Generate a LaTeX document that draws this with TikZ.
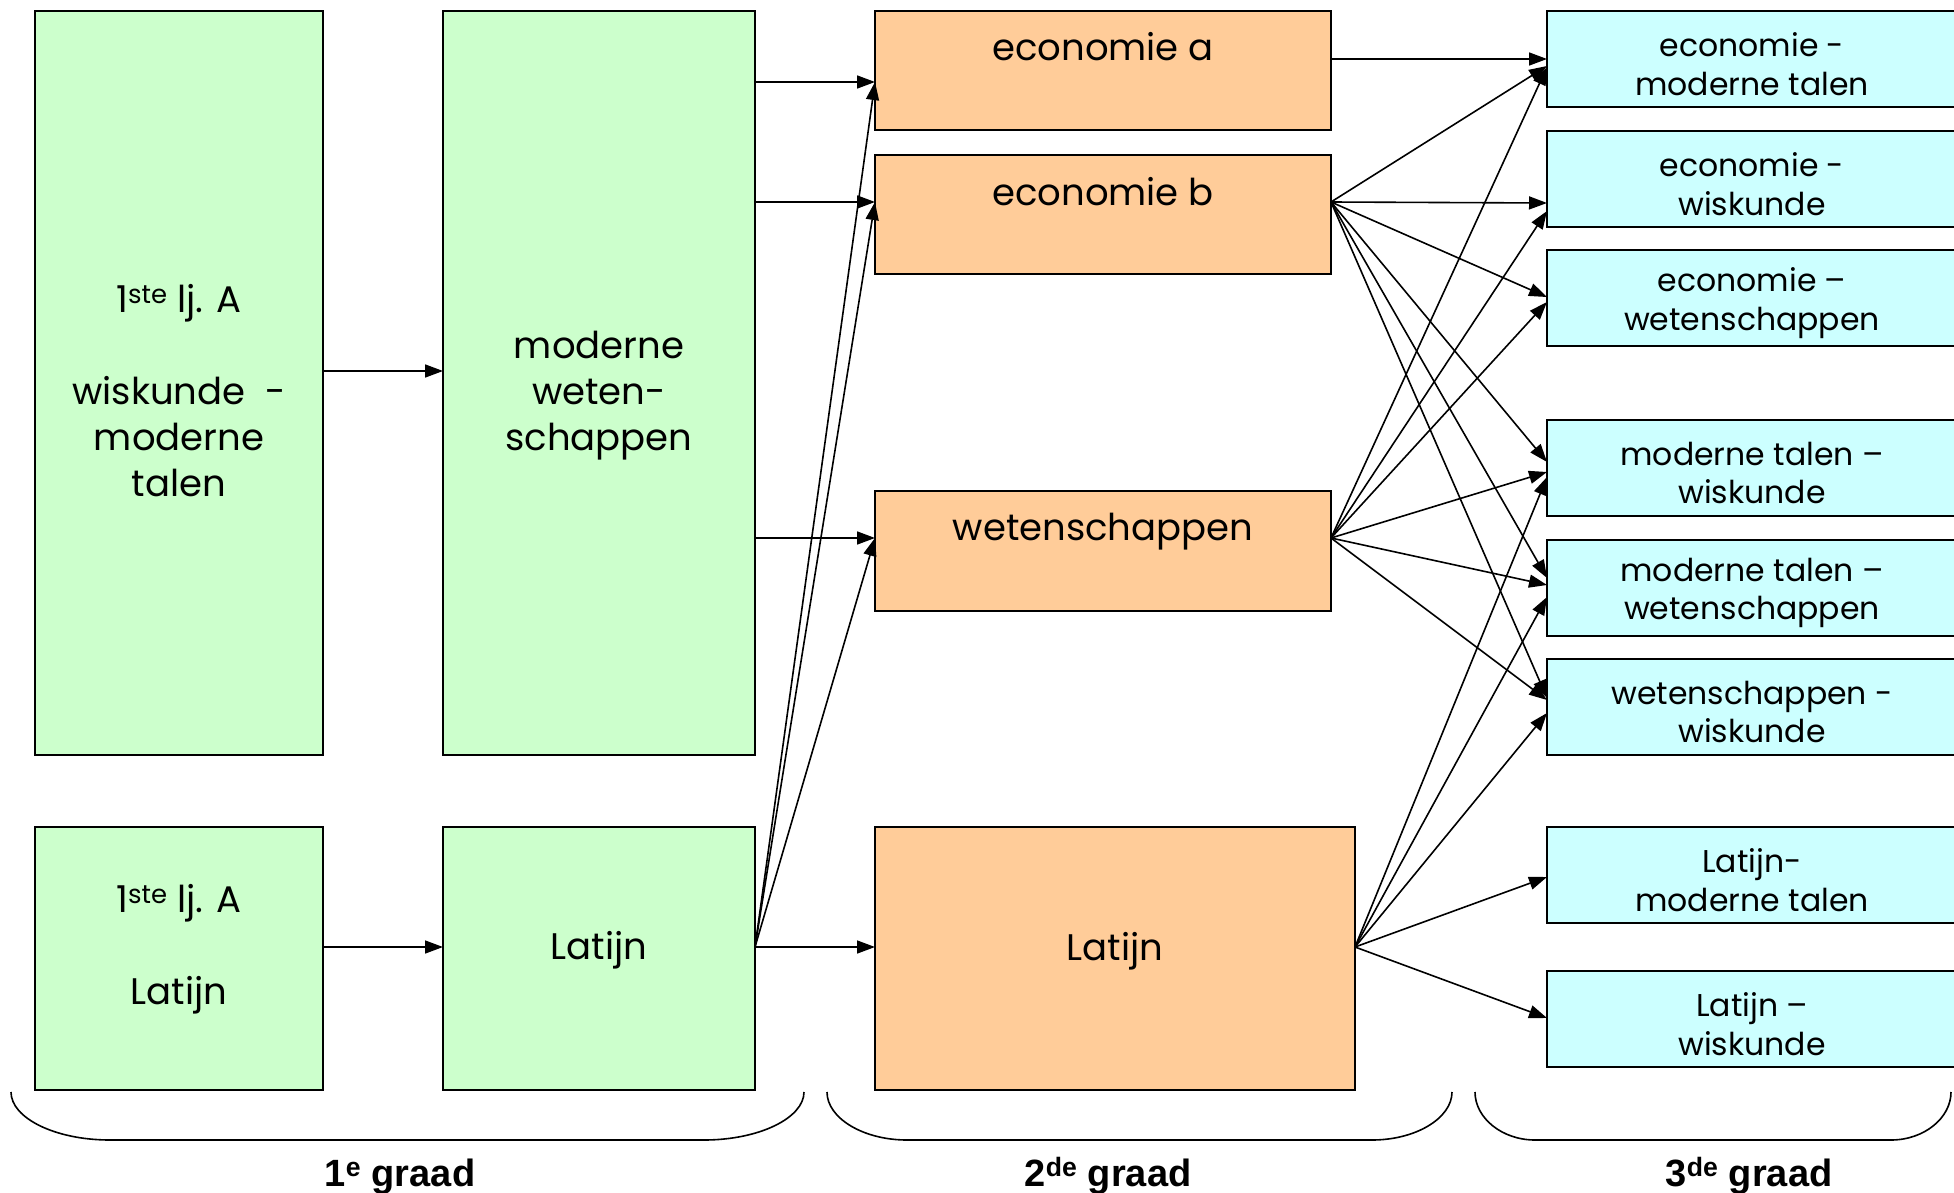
\documentclass[tikz,border=0pt]{standalone}
\usepackage{fontspec}
\setmainfont{Poppins}
\newfontfamily\arialf{Liberation Sans}
\usetikzlibrary{arrows.meta}
\definecolor{gfill}{HTML}{CCFFCC}
\definecolor{ofill}{HTML}{FFCC99}
\definecolor{cfill}{HTML}{CCFFFF}
\begin{document}
\begin{tikzpicture}[x=1pt,y=-1pt,
  box/.style={draw=black, line width=1.8pt, anchor=north west, inner sep=0pt, outer sep=0pt},
  gbox/.style={box, fill=gfill},
  obox/.style={box, fill=ofill},
  cbox/.style={box, fill=cfill, minimum width=410pt, minimum height=96pt},
  ctext/.style={inner sep=0pt, align=center, font=\fontsize{31.5}{38.6}\selectfont},
  bigtext/.style={inner sep=0pt, align=center, font=\fontsize{37}{46}\selectfont},
  gradetext/.style={inner sep=0pt, anchor=base, font=\arialf\bfseries\fontsize{38}{42}\selectfont},
  ln/.style={line width=1.6pt, -{Triangle[length=18pt,width=13pt]}},
  brace/.style={line width=1.6pt}
]
\path[use as bounding box] (0,0) rectangle (1954,1193);
\clip (0,0) rectangle (1954,1193);

% first grade (green)
\node[gbox, minimum width=288pt, minimum height=744pt] (g1) at (35,11) {};
\node[gbox, minimum width=312pt, minimum height=744pt] (g2) at (443,11) {};
\node[gbox, minimum width=288pt, minimum height=263pt] (g3) at (35,827) {};
\node[gbox, minimum width=312pt, minimum height=263pt] (g4) at (443,827) {};
\node[bigtext] (t1) at (179,391) {1\textsuperscript{ste} lj. A\\[46pt]wiskunde~ -\\moderne\\talen};
\node[bigtext] (t2) at (599,396) {moderne\\weten-\\schappen};
\node[bigtext] (t3) at (179,949) {1\textsuperscript{ste} lj. A\\[46pt]Latijn};
\node[bigtext] (t4) at (599,950) {Latijn};

% second grade (orange)
\node[obox, minimum width=456pt, minimum height=119pt] (oa) at (875,11) {};
\node[obox, minimum width=456pt, minimum height=119pt] (ob) at (875,155) {};
\node[obox, minimum width=456pt, minimum height=120pt] (ow) at (875,491) {};
\node[obox, minimum width=480pt, minimum height=263pt] (ol) at (875,827) {};
\node[bigtext] (toa) at (1103,47) {economie a};
\node[bigtext] (tob) at (1103,192) {economie b};
\node[bigtext] (tow) at (1103,532) {wetenschappen};
\node[bigtext] (tol) at (1115,951) {Latijn};

% third grade (cyan)
\node[cbox] (c1) at (1547,11)  {};
\node[cbox] (c2) at (1547,131) {};
\node[cbox] (c3) at (1547,250) {};
\node[cbox] (c4) at (1547,420) {};
\node[cbox] (c5) at (1547,540) {};
\node[cbox] (c6) at (1547,659) {};
\node[cbox] (c7) at (1547,827) {};
\node[cbox] (c8) at (1547,971) {};
\node[ctext] (ct1) at ([yshift=-5pt]c1.center) {economie -\\moderne talen};
\node[ctext] (ct2) at ([yshift=-5pt]c2.center) {economie -\\wiskunde};
\node[ctext] (ct3) at ([yshift=-5pt]c3.center) {economie –\\wetenschappen};
\node[ctext] (ct4) at ([yshift=-5pt]c4.center) {moderne talen –\\wiskunde};
\node[ctext] (ct5) at ([yshift=-5pt]c5.center) {moderne talen –\\wetenschappen};
\node[ctext] (ct6) at ([yshift=-5pt]c6.center) {wetenschappen -\\wiskunde};
\node[ctext] (ct7) at ([yshift=-5pt]c7.center) {Latijn-\\moderne talen};
\node[ctext] (ct8) at ([yshift=-5pt]c8.center) {Latijn –\\wiskunde};

% connector end points
\coordinate (g1o) at ([yshift=12pt]g1.east);
\coordinate (g2i) at ([yshift=12pt]g2.west);
\coordinate (g3o) at ([yshift=11.5pt]g3.east);
\coordinate (g4i) at ([yshift=11.5pt]g4.west);
\coordinate (g2a) at ([yshift=301pt]g2.east);
\coordinate (g2b) at ([yshift=181pt]g2.east);
\coordinate (g2w) at ([yshift=-155pt]g2.east);
\coordinate (g4o) at ([yshift=11.5pt]g4.east);
\coordinate (oai) at ([yshift=-11.5pt]oa.west);
\coordinate (obi) at ([yshift=12.5pt]ob.west);
\coordinate (owi) at ([yshift=13pt]ow.west);
\coordinate (oli) at ([yshift=11.5pt]ol.west);
\coordinate (oao) at ([yshift=11.5pt]oa.east);
\coordinate (obo) at ([yshift=12.5pt]ob.east);
\coordinate (owo) at ([yshift=13pt]ow.east);
\coordinate (olo) at ([yshift=11.5pt]ol.east);

% first grade arrows
\draw[ln] (g1o) -- (g2i);
\draw[ln] (g3o) -- (g4i);
\draw[ln] (g2a) -- (oai);
\draw[ln] (g2b) -- (obi);
\draw[ln] (g2w) -- (owi);
\draw[ln] (g4o) -- (oai);
\draw[ln] (g4o) -- (obi);
\draw[ln] (g4o) -- (owi);
\draw[ln] (g4o) -- (oli);

% second grade arrows
\draw[ln] (oao) -- (c1.west);
\draw[ln] (obo) -- ([yshift=-7pt]c1.west);
\draw[ln] (obo) -- ([yshift=-24pt]c2.west);
\draw[ln] (obo) -- ([yshift=1pt]c3.west);
\draw[ln] (obo) -- ([yshift=6pt]c4.west);
\draw[ln] (obo) -- ([yshift=10pt]c5.west);
\draw[ln] (obo) -- ([yshift=9pt]c6.west);
\draw[ln] (owo) -- ([yshift=-8pt]c1.west);
\draw[ln] (owo) -- ([yshift=-32pt]c2.west);
\draw[ln] (owo) -- ([yshift=-4pt]c3.west);
\draw[ln] (owo) -- ([yshift=-4pt]c4.west);
\draw[ln] (owo) -- ([yshift=3pt]c5.west);
\draw[ln] (owo) -- ([yshift=7pt]c6.west);
\draw[ln] (olo) -- ([yshift=-9pt]c4.west);
\draw[ln] (olo) -- ([yshift=-9pt]c5.west);
\draw[ln] (olo) -- ([yshift=-6pt]c6.west);
\draw[ln] (olo) -- ([yshift=-2pt]c7.west);
\draw[ln] (olo) -- ([yshift=1pt]c8.west);

% braces
\draw[brace] (11,1092) .. controls (11,1118) and (55,1140) .. (110,1140)
  -- (704,1140) .. controls (759,1140) and (804,1118) .. (804,1092);
\draw[brace] (827,1092) .. controls (827,1118) and (863,1140) .. (907,1140)
  -- (1372,1140) .. controls (1416,1140) and (1452,1118) .. (1452,1092);
\draw[brace] (1475,1092) .. controls (1475,1118) and (1502,1140) .. (1535,1140)
  -- (1891,1140) .. controls (1924,1140) and (1951,1118) .. (1951,1092);

% grade labels
\node[gradetext] (l1) at (400,1186) {1\textsuperscript{e} graad};
\node[gradetext] (l2) at (1108,1186) {2\textsuperscript{de} graad};
\node[gradetext] (l3) at (1749,1186) {3\textsuperscript{de} graad};
\end{tikzpicture}
\end{document}
